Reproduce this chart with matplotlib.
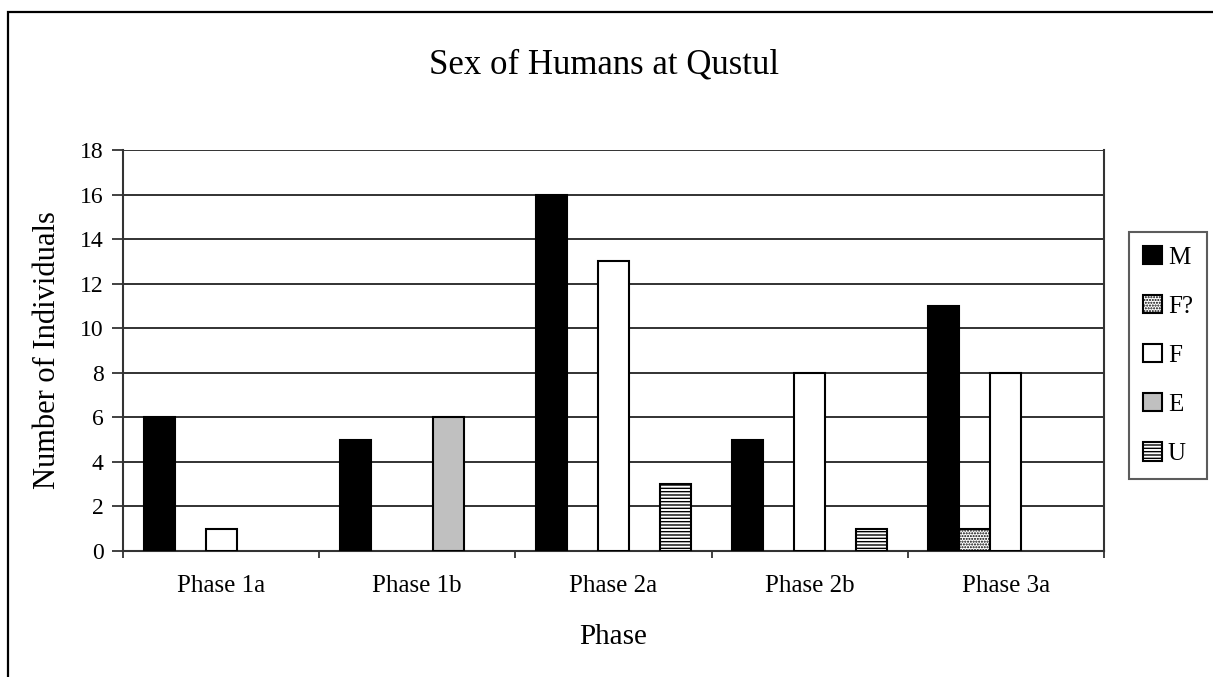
import numpy as np
import matplotlib
matplotlib.use("Agg")
import matplotlib.pyplot as plt
from matplotlib.patches import Rectangle, Patch

plt.rcParams['font.family'] = ['Liberation Serif', 'DejaVu Serif']
plt.rcParams['hatch.linewidth'] = 1.0

phases = ["Phase 1a", "Phase 1b", "Phase 2a", "Phase 2b", "Phase 3a"]
sexes = ["M", "F?", "F", "E", "U"]
count_m = [6, 5, 16, 5, 11]
count_fq = [0, 0, 0, 0, 1]
count_f = [1, 0, 13, 8, 8]
count_e = [0, 6, 0, 0, 0]
count_u = [0, 0, 3, 1, 0]

series = [count_m, count_fq, count_f, count_e, count_u]
faces = ["black", "white", "white", "#c0c0c0", "white"]
hatches = [None, "......", None, None, "-----"]

fig = plt.figure(figsize=(12.13, 6.77), dpi=100)
ax = fig.add_axes([123 / 1213, 1 - 551 / 677, (1104 - 123) / 1213, (551 - 150) / 677])

x = np.arange(len(phases))
w = 31 / 196
handles = []
for j, vals in enumerate(series):
    # empty categories get no outline, like Excel leaves them out
    lws = [1.5 if v > 0 else 0 for v in vals]
    ax.bar(x + (j - 2) * w, vals, width=w, color=faces[j], edgecolor="black",
           linewidth=lws, hatch=hatches[j], zorder=3)
    handles.append(Patch(facecolor=faces[j], edgecolor="black", linewidth=1.5,
                         hatch=hatches[j], label=sexes[j]))

ax.set_xlim(-0.5, len(phases) - 0.5)
ax.set_ylim(0, 18)
ax.set_yticks(range(0, 19, 2))
ax.yaxis.grid(True, color="#222222", linewidth=1.3, zorder=0)
ax.tick_params(axis="y", direction="out", length=8, width=1.3, color="#333333",
               labelsize=17, pad=6)

ax.set_xticks(x)
ax.set_xticklabels(phases)
ax.set_xticks(np.arange(-0.5, len(phases), 1), minor=True)
ax.tick_params(axis="x", which="major", length=0, labelsize=18, pad=17)
ax.tick_params(axis="x", which="minor", direction="out", length=5, width=1.3, color="#333333")

for side in ["left", "bottom", "right"]:
    ax.spines[side].set_color("#333333")
    ax.spines[side].set_linewidth(1.5)
ax.spines["top"].set_visible(False)

ax.set_ylabel("Number of Individuals", fontsize=22, labelpad=13)
ax.set_xlabel("Phase", fontsize=21, labelpad=20)

fig.text(0.498, 0.904, "Sex of Humans at Qustul", fontsize=25, ha="center", va="center")

leg = fig.legend(handles=handles, labels=sexes, loc="upper left",
                 bbox_to_anchor=(1129 / 1213, 1 - 232 / 677), fontsize=18,
                 frameon=True, fancybox=False, edgecolor="#333333",
                 handlelength=0.75, handleheight=0.75, handletextpad=0.25,
                 labelspacing=1.05, borderpad=0.55, borderaxespad=0)
leg.get_frame().set_linewidth(1.5)

fig.patches.append(Rectangle((8 / 1213, -0.02), 1.05, 0.02 + 1 - 12 / 677,
                             transform=fig.transFigure, fill=False,
                             edgecolor="black", linewidth=1.6))

fig.savefig("out.png", dpi=100)
